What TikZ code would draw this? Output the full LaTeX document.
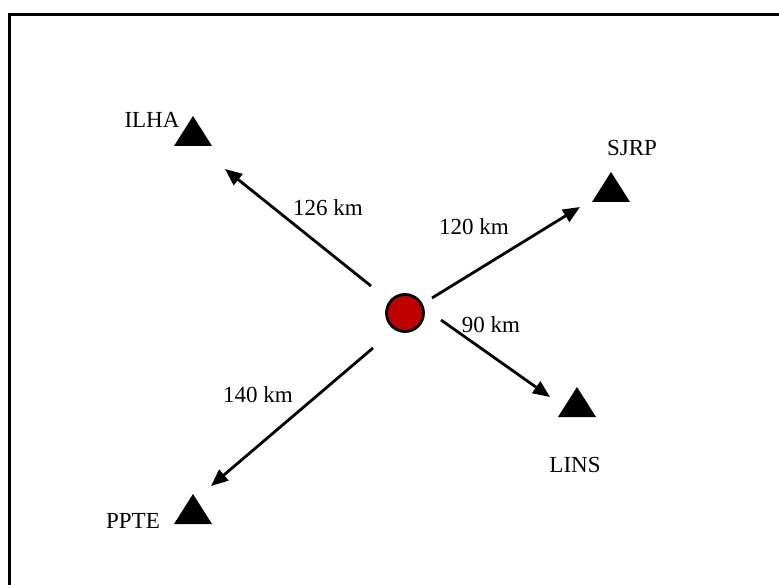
\documentclass[tikz,border=0pt]{standalone}
\usepackage{fontspec}
\setmainfont{Liberation Serif}
\usetikzlibrary{arrows.meta}
\definecolor{hubred}{RGB}{192,0,0}
\begin{document}
\begin{tikzpicture}[x=1pt,y=-1pt,
  lbl/.style={font=\fontsize{23}{27}\selectfont, inner sep=0pt},
  link/.style={line width=2.8pt, -{Triangle[length=17pt,width=14pt]}},
  station/.style={fill=black},
  frame/.style={line width=3pt, line cap=rect}]
\useasboundingbox (0,0) rectangle (779,585);

% partial frame (top and left edges)
\draw[frame] (9,585) -- (9,15) -- (779,15);

% central point
\node[circle, draw, line width=2.8pt, fill=hubred, minimum size=37pt, inner sep=0pt] (hub) at (405,313) {};

% stations (triangle markers)
\coordinate (ilha) at (193,131);
\coordinate (sjrp) at (611,187);
\coordinate (lins) at (577,402);
\coordinate (ppte) at (193,509);
\foreach \s in {ilha,sjrp,lins,ppte}
  \fill[station] (\s) ++(0,-15) -- ++(19,30) -- ++(-38,0) -- cycle;

% station names
\node[lbl] (tilha) at (152,120) {ILHA};
\node[lbl] (tsjrp) at (632,148) {SJRP};
\node[lbl] (tlins) at (575,465) {LINS};
\node[lbl] (tppte) at (133,521) {PPTE};

% arrow end points
\coordinate (s1) at (371,286); \coordinate (e1) at (225,169);
\coordinate (s2) at (432,298); \coordinate (e2) at (580,207);
\coordinate (s3) at (441,320); \coordinate (e3) at (550,397);
\coordinate (s4) at (373,348); \coordinate (e4) at (211,486);

\draw[link] (s1) -- (e1);
\draw[link] (s2) -- (e2);
\draw[link] (s3) -- (e3);
\draw[link] (s4) -- (e4);

% distances
\node[lbl] (d1) at (328,208) {126 km};
\node[lbl] (d2) at (474,227) {120 km};
\node[lbl] (d3) at (491,325) {90 km};
\node[lbl] (d4) at (258,395) {140 km};
\end{tikzpicture}
\end{document}
